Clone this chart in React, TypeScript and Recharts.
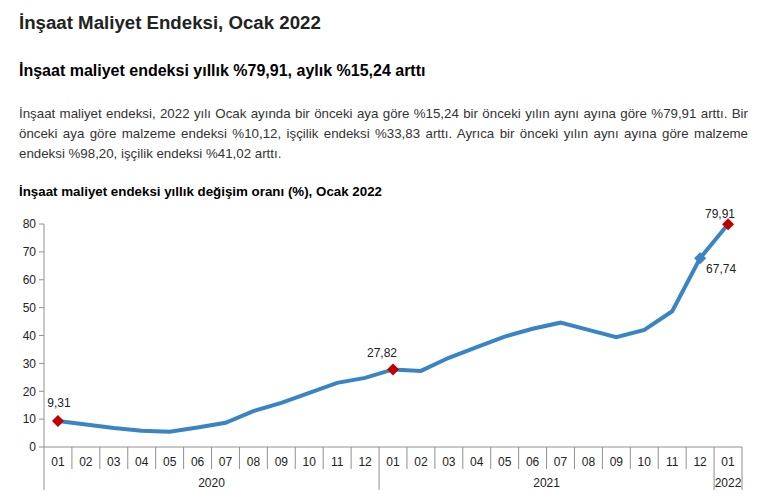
import React from 'react';
import { LineChart, Line, XAxis, YAxis } from 'recharts';

const months = ['01','02','03','04','05','06','07','08','09','10','11','12','01','02','03','04','05','06','07','08','09','10','11','12','01'];
const periodKeys = months.map((m, i) => `${2020 + Math.floor(i / 12)}-${m}`);
const values = [9.31, 8.1, 6.8, 5.8, 5.5, 7.0, 8.7, 12.9, 15.8, 19.4, 23.0, 24.8, 27.82, 27.3, 32.0, 35.8, 39.6, 42.4, 44.6, 42.0, 39.4, 42.0, 48.7, 67.74, 79.91];
const years = ['2020', '2021', '2022'];
const yearStarts = [0, 12, 24];
const yearCounts = [12, 12, 1];
const yTicks = [0, 10, 20, 30, 40, 50, 60, 70, 80];
const redPoints = [0, 12, 24];
const bluePoints = [23];
const labelledPoints = [0, 12, 23, 24];

const data = periodKeys.map((k, i) => ({ key: k, month: months[i], value: values[i] }));

const FONT = '"Liberation Sans", Arial, Helvetica, sans-serif';
const LINE = '#3A84C4';
const RED = '#C00000';
const AXIS = '#909090';
const TEXT = '#222';

const CHART_W = 765;
const CHART_H = 300;
const M = { top: 24, right: 23, left: 0, bottom: 0 };
const Y_W = 44;
const X_H = 53;
const BW = (CHART_W - M.left - M.right - Y_W) / months.length;

const labelOffset: Record<number, { dx: number; dy: number }> = {
  0: { dx: 1, dy: -14 },
  12: { dx: -11, dy: -12 },
  23: { dx: 21, dy: 15 },
  24: { dx: -8, dy: -6 },
};

const fmt = (v: number) => v.toFixed(2).replace('.', ',');

const MonthTick = (props: any) => {
  const { x, y, payload, index } = props;
  const i = index ?? payload.index;
  const left = x - BW / 2;
  const els: any[] = [];
  const isYearStart = yearStarts.includes(i);
  els.push(
    <line key="s" x1={left} y1={y} x2={left} y2={y + (isYearStart ? 43 : 22)} stroke={AXIS} strokeWidth={1} />
  );
  if (i === months.length - 1) {
    els.push(<line key="e" x1={x + BW / 2} y1={y} x2={x + BW / 2} y2={y + 43} stroke={AXIS} strokeWidth={1} />);
  }
  els.push(
    <text key="t" x={x} y={y + 19} textAnchor="middle" fontSize={12} fontFamily={FONT} fill={TEXT}>
      {months[i]}
    </text>
  );
  const yi = yearStarts.indexOf(i);
  if (yi >= 0) {
    els.push(
      <text key="y" x={left + (yearCounts[yi] * BW) / 2} y={y + 40} textAnchor="middle" fontSize={12} fontFamily={FONT} fill={TEXT}>
        {years[yi]}
      </text>
    );
  }
  return <g>{els}</g>;
};

const renderDot = (props: any) => {
  const { cx, cy, index, value } = props;
  const isRed = redPoints.includes(index);
  const isBlue = bluePoints.includes(index);
  const out: any[] = [];
  if (isRed || isBlue) {
    const r = 6;
    out.push(
      <polygon
        key="d"
        points={`${cx},${cy - r} ${cx + r},${cy} ${cx},${cy + r} ${cx - r},${cy}`}
        fill={isRed ? RED : LINE}
      />
    );
  }
  if (labelledPoints.includes(index)) {
    const o = labelOffset[index];
    out.push(
      <text key="l" x={cx + o.dx} y={cy + o.dy} textAnchor="middle" fontSize={12} fontFamily={FONT} fill={TEXT}>
        {fmt(value)}
      </text>
    );
  }
  return <g key={`dot-${index}`}>{out}</g>;
};

export default function App() {
  return (
    <div style={{ position: 'absolute', left: 0, top: 0, width: 765, height: 500, background: '#fff', fontFamily: FONT, color: TEXT }}>
      <div style={{ position: 'absolute', left: 19, top: 12, fontSize: 18.67, fontWeight: 'bold', whiteSpace: 'nowrap', lineHeight: '22px' }}>
        İnşaat Maliyet Endeksi, Ocak 2022
      </div>
      <div style={{ position: 'absolute', left: 19, top: 61, fontSize: 16, fontWeight: 'bold', whiteSpace: 'nowrap', lineHeight: '20px', color: '#000' }}>
        İnşaat maliyet endeksi yıllık %79,91, aylık %15,24 arttı
      </div>
      <div style={{ position: 'absolute', left: 19, top: 104, width: 729, fontSize: 13.3, lineHeight: '20px', color: '#333' }}>
        <div style={{ textAlign: 'justify', textAlignLast: 'justify', whiteSpace: 'nowrap' }}>
          İnşaat maliyet endeksi, 2022 yılı Ocak ayında bir önceki aya göre %15,24 bir önceki yılın aynı ayına göre %79,91 arttı. Bir
        </div>
        <div style={{ textAlign: 'justify', textAlignLast: 'justify', whiteSpace: 'nowrap' }}>
          önceki aya göre malzeme endeksi %10,12, işçilik endeksi %33,83 arttı. Ayrıca bir önceki yılın aynı ayına göre malzeme
        </div>
        <div>endeksi %98,20, işçilik endeksi %41,02 arttı.</div>
      </div>
      <div style={{ position: 'absolute', left: 19, top: 184, fontSize: 13.33, fontWeight: 'bold', whiteSpace: 'nowrap', lineHeight: '16px', color: '#000' }}>
        İnşaat maliyet endeksi yıllık değişim oranı (%), Ocak 2022
      </div>
      <div style={{ position: 'absolute', left: 0, top: 200 }}>
        <LineChart width={CHART_W} height={CHART_H} data={data} margin={M}>
          <XAxis
            dataKey="key"
            type="category"
            interval={0}
            height={X_H}
            padding={{ left: BW / 2, right: BW / 2 }}
            tickSize={0}
            tickMargin={0}
            tickLine={false}
            axisLine={{ stroke: AXIS }}
            tick={<MonthTick />}
          />
          <YAxis
            type="number"
            domain={[0, 80]}
            ticks={yTicks}
            width={Y_W}
            interval={0}
            axisLine={{ stroke: AXIS }}
            tickLine={{ stroke: AXIS }}
            tickSize={5}
            tickMargin={3}
            tick={{ fontSize: 12, fontFamily: FONT, fill: TEXT }}
          />
          <Line
            type="linear"
            dataKey="value"
            stroke={LINE}
            strokeWidth={4}
            dot={renderDot}
            activeDot={false}
            isAnimationActive={false}
          />
        </LineChart>
      </div>
    </div>
  );
}
